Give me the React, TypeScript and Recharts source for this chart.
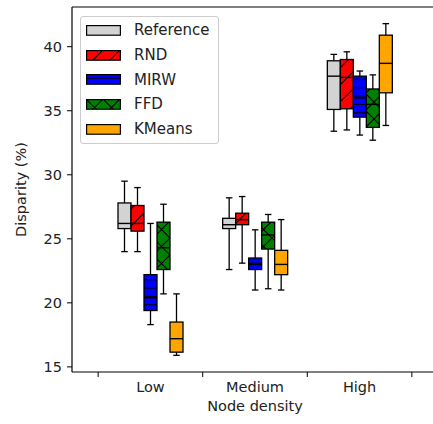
import React from "react";
import { Bar, ComposedChart, ReferenceLine, XAxis, YAxis } from "recharts";

const categories = ["Low", "Medium", "High"];
const seriesNames = ["Reference", "RND", "MIRW", "FFD", "KMeans"];
const seriesColors = ["#d3d3d3", "#ff0000", "#0000ff", "#008000", "#ffa500"];
const seriesHatches = ["none", "slash", "dash", "cross", "none"];

// [whisker low, q1, median, q3, whisker high] for Low, Medium, High
const referenceStats = [
  [24.0, 25.8, 26.2, 27.8, 29.5],
  [22.6, 25.8, 26.1, 26.6, 28.2],
  [33.4, 35.1, 37.7, 38.9, 39.4],
];
const rndStats = [
  [24.0, 25.6, 26.2, 27.6, 29.0],
  [23.1, 26.1, 26.5, 27.0, 28.3],
  [33.5, 35.15, 37.6, 39.0, 39.6],
];
const mirwStats = [
  [18.3, 19.4, 20.4, 22.2, 26.2],
  [21.0, 22.6, 23.0, 23.5, 25.7],
  [33.1, 34.5, 36.0, 37.7, 38.1],
];
const ffdStats = [
  [20.7, 22.6, 24.3, 26.3, 27.7],
  [21.1, 24.2, 25.3, 26.3, 26.9],
  [32.7, 33.7, 35.5, 36.7, 37.8],
];
const kmeansStats = [
  [15.9, 16.15, 17.2, 18.5, 20.7],
  [21.0, 22.2, 23.0, 24.1, 26.5],
  [33.85, 36.4, 38.7, 40.9, 41.8],
];

const allStats = [referenceStats, rndStats, mirwStats, ffdStats, kmeansStats];
const yTicks = [15, 20, 25, 30, 35, 40];
// category centres at 1, 2, 3 and group boundaries at the halves
const xTicks = [0.5, 1, 1.5, 2, 2.5, 3, 3.5];
const xDomain = [0.25, 3.75];
const yDomain = [14.6, 43.1];

const rows = categories.map((name, i) => ({
  name,
  pos: i + 1,
  stats: allStats.map((s) => s[i]),
}));

const font = "DejaVu Sans, sans-serif";
const TICK_SIZE = 5;
const TICK_MARGIN = 3;

function HatchDefs({ prefix }: { prefix: string }) {
  const s = 17;
  return (
    <defs>
      <pattern id={`${prefix}-slash`} patternUnits="userSpaceOnUse" width={s} height={s}>
        <path d={`M0,${s} L${s},0 M-2,2 L2,-2 M${s - 2},${s + 2} L${s + 2},${s - 2}`} stroke="#000" strokeWidth={1.1} />
      </pattern>
      <pattern id={`${prefix}-cross`} patternUnits="userSpaceOnUse" width={s} height={s}>
        <path
          d={`M0,${s} L${s},0 M-2,2 L2,-2 M${s - 2},${s + 2} L${s + 2},${s - 2} M0,0 L${s},${s} M-2,${s - 2} L2,${s + 2} M${s - 2},-2 L${s + 2},2`}
          stroke="#000"
          strokeWidth={1.1}
        />
      </pattern>
      <pattern id={`${prefix}-dash`} patternUnits="userSpaceOnUse" width={10} height={8.35}>
        <path d="M-1,4.2 L11,4.2" stroke="#000" strokeWidth={1.1} />
      </pattern>
    </defs>
  );
}

function BoxShape(props: any) {
  const { x, y, width, height, payload, k } = props;
  const [lo, q1, med, q3, hi] = payload.stats[k];
  const top = Math.min(y, y + height);
  const h = Math.abs(height);
  const yOf = (v: number) => top + (h * (hi - v)) / (hi - lo);
  const cx = x + width / 2;
  const cap = width / 4;
  const hatch = seriesHatches[k];
  const boxY = yOf(q3);
  const boxH = yOf(q1) - yOf(q3);
  return (
    <g>
      <line x1={cx} x2={cx} y1={yOf(hi)} y2={boxY} stroke="#000" strokeWidth={1.3} />
      <line x1={cx} x2={cx} y1={yOf(q1)} y2={yOf(lo)} stroke="#000" strokeWidth={1.3} />
      <line x1={cx - cap} x2={cx + cap} y1={yOf(hi)} y2={yOf(hi)} stroke="#000" strokeWidth={1.3} />
      <line x1={cx - cap} x2={cx + cap} y1={yOf(lo)} y2={yOf(lo)} stroke="#000" strokeWidth={1.3} />
      <rect x={x} y={boxY} width={width} height={boxH} fill={seriesColors[k]} />
      {hatch !== "none" && <rect x={x} y={boxY} width={width} height={boxH} fill={`url(#chart-${hatch})`} />}
      <rect x={x} y={boxY} width={width} height={boxH} fill="none" stroke="#000" strokeWidth={1.3} />
      <line x1={x} x2={x + width} y1={yOf(med)} y2={yOf(med)} stroke="#000" strokeWidth={1.4} />
    </g>
  );
}

function XTick(props: any) {
  const { x, y, payload } = props;
  const v = payload.value;
  if (Number.isInteger(v)) {
    return (
      <text x={x} y={y} dy="0.82em" textAnchor="middle" fill="#222" fontSize={14.5} fontFamily={font}>
        {categories[v - 1]}
      </text>
    );
  }
  const axisY = y - TICK_SIZE - TICK_MARGIN;
  return <line x1={x} x2={x} y1={axisY} y2={axisY + TICK_SIZE} stroke="#000" strokeWidth={1} />;
}

function LegendBox() {
  return (
    <div
      style={{
        position: "absolute",
        left: 80,
        top: 16,
        border: "1px solid #cccccc",
        borderRadius: 3,
        background: "rgba(255,255,255,0.8)",
        padding: "1px 8px 2px 5px",
        fontFamily: font,
        fontSize: 15,
        color: "#222",
      }}
    >
      {seriesNames.map((name, k) => {
        const hatch = seriesHatches[k];
        return (
          <div key={name} style={{ height: 24.7, display: "flex", alignItems: "center" }}>
            <svg width={35} height={11} style={{ marginRight: 13 }}>
              <HatchDefs prefix={`lg${k}`} />
              <rect x={0.6} y={0.6} width={33.8} height={9.6} fill={seriesColors[k]} />
              {hatch !== "none" && <rect x={0.6} y={0.6} width={33.8} height={9.6} fill={`url(#lg${k}-${hatch})`} />}
              <rect x={0.6} y={0.6} width={33.8} height={9.6} fill="none" stroke="#000" strokeWidth={1.2} />
            </svg>
            <span>{name}</span>
          </div>
        );
      })}
    </div>
  );
}

export default function App() {
  return (
    <div style={{ position: "relative", width: 433, height: 424, overflow: "hidden", background: "#fff" }}>
      <style>{"body{margin:0}"}</style>
      <ComposedChart
        width={440}
        height={424}
        data={rows}
        margin={{ top: 7, right: 2, bottom: 0, left: 0 }}
        barGap={0}
        barSize={13}
      >
        <HatchDefs prefix="chart" />
        <XAxis xAxisId="cat" dataKey="name" hide height={0} padding={{ left: 26, right: 26 }} />
        <XAxis
          xAxisId="num"
          dataKey="pos"
          type="number"
          scale="linear"
          domain={xDomain}
          ticks={xTicks}
          allowDataOverflow
          height={52}
          tickLine={false}
          tickSize={TICK_SIZE}
          tickMargin={TICK_MARGIN}
          interval={0}
          axisLine={{ stroke: "#000", strokeWidth: 1.2 }}
          tick={<XTick />}
          label={(p: any) => {
            const vb = p.viewBox;
            return (
              <text x={vb.x + vb.width / 2} y={vb.y + 39} textAnchor="middle" fill="#222" fontSize={14.5} fontFamily={font}>
                Node density
              </text>
            );
          }}
        />
        <YAxis
          type="number"
          domain={yDomain}
          ticks={yTicks}
          allowDataOverflow
          width={72}
          tickSize={5}
          tickMargin={5}
          axisLine={{ stroke: "#000", strokeWidth: 1.2 }}
          tickLine={{ stroke: "#000", strokeWidth: 1 }}
          tick={{ fill: "#222", fontSize: 14.5, fontFamily: font }}
          label={(p: any) => {
            const vb = p.viewBox;
            const cy = vb.y + vb.height / 2;
            return (
              <text x={26} y={cy} transform={`rotate(-90 26 ${cy})`} textAnchor="middle" fill="#222" fontSize={14.5} fontFamily={font}>
                Disparity (%)
              </text>
            );
          }}
        />
        <ReferenceLine xAxisId="num" y={yDomain[1]} stroke="#000" strokeWidth={1.2} />
        {seriesNames.map((name, k) => (
          <Bar
            key={name}
            xAxisId="cat"
            name={name}
            dataKey={(row: any) => [row.stats[k][0], row.stats[k][4]]}
            fill={seriesColors[k]}
            isAnimationActive={false}
            shape={(p: any) => <BoxShape {...p} k={k} />}
          />
        ))}
      </ComposedChart>
      <LegendBox />
    </div>
  );
}
